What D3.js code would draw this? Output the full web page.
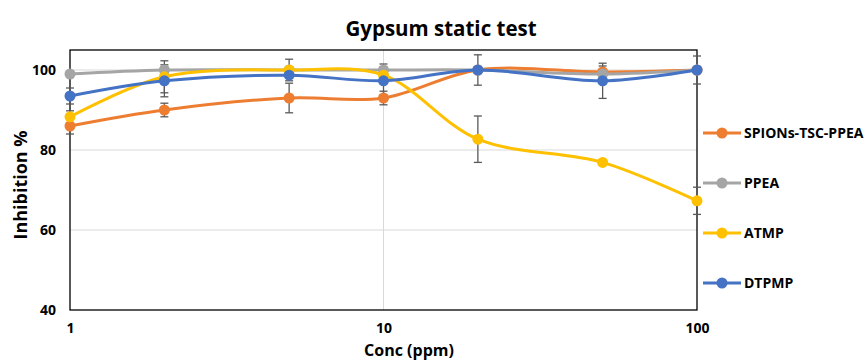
<!DOCTYPE html>
<html>
<head>
<meta charset="utf-8">
<script src="https://cdn.jsdelivr.net/npm/d3@7"></script>
<style>
body { margin: 0; background: #fff; }
text { font-family: "Open Sans", sans-serif; font-weight: bold; fill: #000; }
</style>
</head>
<body>
<svg id="chart" width="867" height="360"></svg>
<script>
// data
var conc = [1, 2, 5, 10, 20, 50, 100];
var seriesNames = ["SPIONs-TSC-PPEA", "PPEA", "ATMP", "DTPMP"];
var spions = [86, 90, 93, 93, 100, 99.5, 100];
var ppea = [99, 100, 100, 100, 100, 99, 100];
var atmp = [88.3, 98.3, 100, 98.7, 82.7, 76.9, 67.3];
var dtpmp = [93.5, 97.3, 98.7, 97.3, 100, 97.3, 100];
var spionsErr = [2, 1.7, 3.7, 1.7, 0.8, 0.5, 0.5];
var ppeaErr = [0.5, 0.8, 0.8, 1.5, 0.8, 2, 0.8];
var atmpErr = [1.5, 4, 2.7, 0.8, 5.8, 0.5, 3.4];
var dtpmpErr = [2, 4, 0.8, 3.5, 3.8, 4.4, 3.5];
var colors = ["#ED7D31", "#A5A5A5", "#FFC000", "#4472C4"];
var xTicks = [1, 10, 100];
var yTicks = [40, 60, 80, 100];

var values = [spions, ppea, atmp, dtpmp];
var errs = [spionsErr, ppeaErr, atmpErr, dtpmpErr];

var svg = d3.select("#chart");
var pLeft = 70, pRight = 697, pTop = 50, pBottom = 310;

var x = d3.scaleLog().domain([1, 100]).range([pLeft, pRight]);
var y = d3.scaleLinear().domain([40, 105]).range([pBottom, pTop]);

// gridlines
svg.append("g").selectAll("line").data(yTicks.slice(1)).enter().append("line")
  .attr("x1", pLeft).attr("x2", pRight)
  .attr("y1", function(d) { return y(d); }).attr("y2", function(d) { return y(d); })
  .attr("stroke", "#d9d9d9").attr("stroke-width", 1);
svg.append("line")
  .attr("x1", x(10)).attr("x2", x(10)).attr("y1", pTop).attr("y2", pBottom)
  .attr("stroke", "#d9d9d9").attr("stroke-width", 1);

// frame
svg.append("rect").attr("x", pLeft).attr("y", pTop)
  .attr("width", pRight - pLeft).attr("height", pBottom - pTop)
  .attr("fill", "none").attr("stroke", "#000").attr("stroke-width", 1.3);

// axes
var xAxis = svg.append("g").attr("transform", "translate(0," + pBottom + ")")
  .call(d3.axisBottom(x).tickValues(xTicks).tickFormat(d3.format("d")).tickSize(0).tickPadding(13));
xAxis.select(".domain").remove();
xAxis.selectAll("text").style("font-size", "14px");

var yAxis = svg.append("g").attr("transform", "translate(" + pLeft + ",0)")
  .call(d3.axisLeft(y).tickValues(yTicks).tickSize(0).tickPadding(14));
yAxis.select(".domain").remove();
yAxis.selectAll("text").style("font-size", "14px");

// titles
svg.append("text").attr("x", 441).attr("y", 36).attr("text-anchor", "middle")
  .style("font-size", "20.5px").text("Gypsum static test");
svg.append("text").attr("x", 409).attr("y", 356).attr("text-anchor", "middle")
  .style("font-size", "16px").text("Conc (ppm)");
svg.append("text").attr("transform", "translate(27,185) rotate(-90)")
  .attr("text-anchor", "middle").style("font-size", "18px").text("Inhibition %");

var line = d3.line()
  .x(function(d, i) { return x(conc[i]); })
  .y(function(d) { return y(d); })
  .curve(d3.curveCatmullRom.alpha(0.5));

// error bars first, then lines and markers
values.forEach(function(vals, s) {
  var g = svg.append("g").attr("stroke", "#595959").attr("stroke-width", 1.3);
  vals.forEach(function(v, i) {
    var cx = x(conc[i]), e = errs[s][i];
    g.append("line").attr("x1", cx).attr("x2", cx).attr("y1", y(v - e)).attr("y2", y(v + e));
    g.append("line").attr("x1", cx - 4).attr("x2", cx + 4).attr("y1", y(v - e)).attr("y2", y(v - e));
    g.append("line").attr("x1", cx - 4).attr("x2", cx + 4).attr("y1", y(v + e)).attr("y2", y(v + e));
  });
});

values.forEach(function(vals, s) {
  svg.append("path").datum(vals).attr("d", line)
    .attr("fill", "none").attr("stroke", colors[s]).attr("stroke-width", 3);
  svg.append("g").selectAll("circle").data(vals).enter().append("circle")
    .attr("cx", function(d, i) { return x(conc[i]); })
    .attr("cy", function(d) { return y(d); })
    .attr("r", 5.5).attr("fill", colors[s]);
});

// legend
var legend = svg.append("g").selectAll("g").data(seriesNames).enter().append("g")
  .attr("transform", function(d, i) { return "translate(703," + (133 + i * 50) + ")"; });
legend.append("line").attr("x1", 0).attr("x2", 38).attr("y1", 0).attr("y2", 0)
  .attr("stroke", function(d, i) { return colors[i]; }).attr("stroke-width", 3);
legend.append("circle").attr("cx", 19).attr("cy", 0).attr("r", 5.5)
  .attr("fill", function(d, i) { return colors[i]; });
legend.append("text").attr("x", 41).attr("y", 5).style("font-size", "14px")
  .text(function(d) { return d; });
</script>
</body>
</html>
